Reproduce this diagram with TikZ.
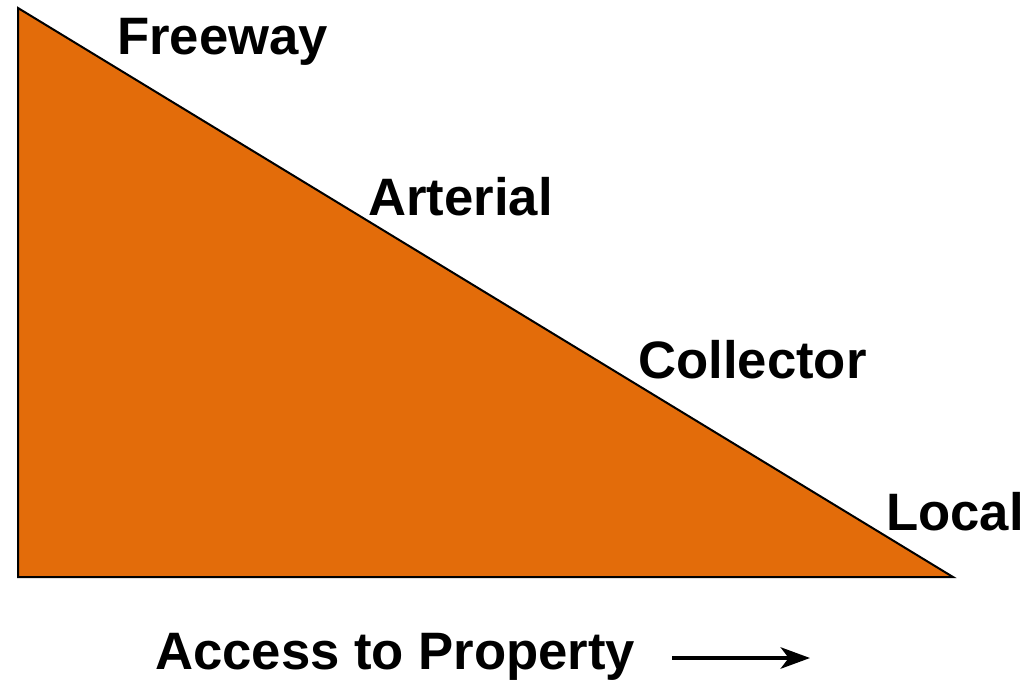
\documentclass[tikz,border=0pt]{standalone}
\usepackage{fontspec}
\setmainfont{Liberation Sans}
\usetikzlibrary{arrows.meta}
\definecolor{roadorange}{HTML}{E36C0A}
\tikzset{
  lbl/.style={anchor=base west, inner sep=0pt, font=\fontsize{39.5}{45}\selectfont\bfseries},
  tri/.style={fill=roadorange, draw=black, line width=1.5pt, line join=miter},
  axisarrow/.style={line width=3pt, -{Stealth[length=22pt, width=16pt, inset=6pt]}}
}
\begin{document}
\begin{tikzpicture}[x=0.75pt, y=-0.75pt]
\useasboundingbox (0,0) rectangle (1030,681);
\coordinate (top) at (18,8);
\coordinate (bl) at (18,577);
\coordinate (br) at (953,577);
\draw[tri] (top) -- (br) -- (bl) -- cycle;
\node[lbl] (freeway) at (117,55) {Freeway};
\node[lbl] (arterial) at (368,215) {Arterial};
\node[lbl] (collector) at (638,378) {Collector};
\node[lbl] (local) at (886,530) {Local};
\node[lbl] (access) at (155,669) {Access to Property};
\coordinate (a1) at (672,658);
\coordinate (a2) at (810,658);
\draw[axisarrow] (a1) -- (a2);
\end{tikzpicture}
\end{document}
